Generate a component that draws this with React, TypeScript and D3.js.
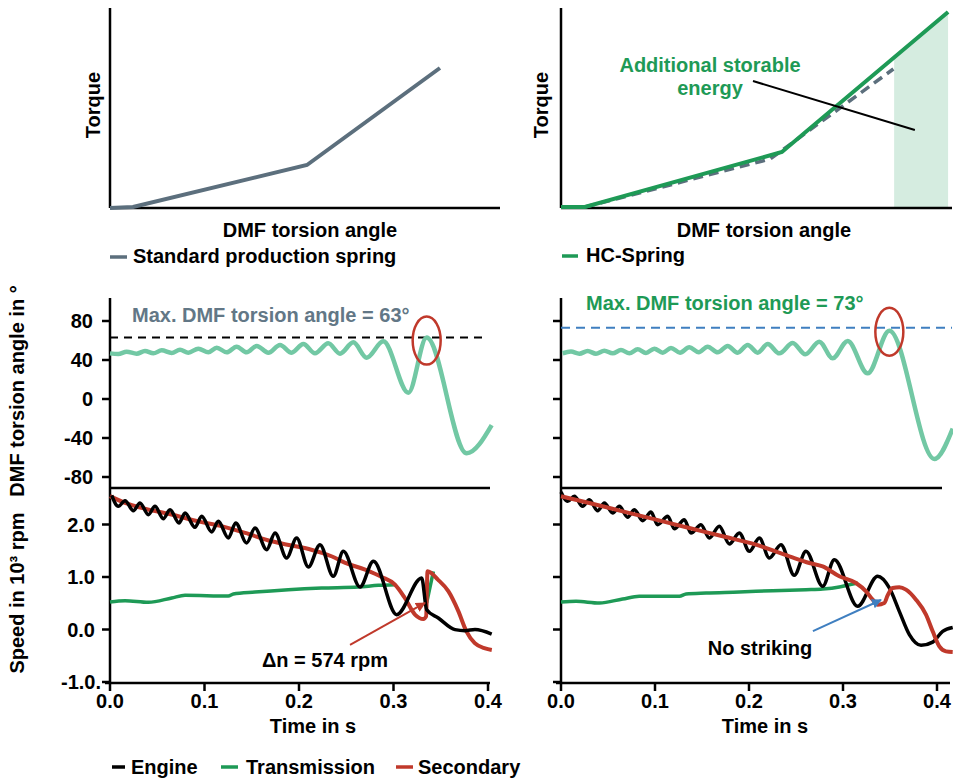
import React from "react";
import * as d3 from "d3";

// ---------- data ----------
const torsionTicks = [80, 40, 0, -40, -80];
const speedTicks = [2, 1, 0, -1];
const speedTickLabels = ["2.0", "1.0", "0.0", "-1.0."];
const timeTicks = [0, 0.1, 0.2, 0.3, 0.4];
const timeTickLabels = ["0.0", "0.1", "0.2", "0.3", "0.4"];

// top panels: [angle, torque] (relative units)
const standardSpring: [number, number][] = [[0, 0], [5.9, 0.5], [50.5, 21.5], [84.6, 70]];
const hcSpring: [number, number][] = [[0, 0.5], [6.1, 0.5], [56.5, 28], [99, 98]];
const standardSpringRef: [number, number][] = [[6.1, 0.5], [53.5, 24.5], [85, 69.5]];
const extraEnergyRange = [85.2, 99];
const energyPointer: [number, number][] = [[49.1, 63.5], [90.5, 39]];

// middle panels: [time s, DMF torsion angle deg]
const torsionStd: [number, number][] = [
  [0, 46.8], [0.0088, 46.2], [0.0176, 48.5], [0.0282, 46.5], [0.037, 49.2], [0.0459, 46.8],
  [0.0547, 49.9], [0.0653, 47.2], [0.0741, 50.6], [0.0829, 47.5], [0.0935, 51.6], [0.1041, 47.9],
  [0.1129, 52.6], [0.1235, 47.9], [0.134, 53.7], [0.1446, 47.9], [0.1552, 54.4], [0.1676, 47.5],
  [0.1799, 55.4], [0.1922, 47.5], [0.2046, 56.4], [0.2169, 46.8], [0.231, 57.1], [0.2434, 46.5],
  [0.2575, 58.1], [0.2716, 42.4], [0.2892, 59.2], [0.3157, 6.5], [0.3351, 63], [0.3774, -55.7],
  [0.4039, -26.7],
];
const torsionHC: [number, number][] = [
  [0.0018, 46.9], [0.0106, 48.6], [0.0195, 46.5], [0.0284, 49.2], [0.0372, 46.5], [0.0461, 49.6],
  [0.055, 46.8], [0.0638, 50.2], [0.0727, 47.0], [0.0816, 50.9], [0.0904, 47.2], [0.0993, 51.6],
  [0.1082, 47.5], [0.117, 52.3], [0.1266, 47.5], [0.1365, 53.0], [0.1465, 47.9], [0.156, 53.7],
  [0.1667, 47.9], [0.1773, 54.4], [0.1879, 47.5], [0.1986, 55.4], [0.2092, 47.5], [0.2199, 56.4],
  [0.2323, 46.8], [0.2465, 57.4], [0.2599, 45.8], [0.2748, 58.8], [0.289, 41.7], [0.305, 59.5],
  [0.3262, 26.3], [0.3493, 70], [0.3972, -61.5], [0.4167, -30.3],
];
const maxAngleStd = 63;
const maxAngleHC = 73;
const peakStd: [number, number] = [0.3351, 63];
const peakHC: [number, number] = [0.3493, 70];

// bottom panels: [time s, speed 10^3 rpm]
const engineStd: [number, number][] = [
  [0.0018, 2.556], [0.0088, 2.346], [0.0159, 2.454], [0.0247, 2.263], [0.0317, 2.41], [0.0406, 2.187],
  [0.0476, 2.346], [0.0564, 2.111], [0.0635, 2.283], [0.073, 2.029], [0.0794, 2.219], [0.0899, 1.946],
  [0.097, 2.156], [0.1076, 1.857], [0.1146, 2.06], [0.1252, 1.743], [0.133, 2.029], [0.1446, 1.648],
  [0.1534, 1.933], [0.1658, 1.521], [0.1746, 1.838], [0.1869, 1.362], [0.1975, 1.743], [0.2099, 1.19],
  [0.2222, 1.616], [0.2363, 1.013], [0.2469, 1.489], [0.2646, 0.81], [0.2787, 1.298], [0.3034, 0.283],
  [0.3298, 0.981], [0.3351, 0.377], [0.3474, 0.219], [0.3651, -0.003], [0.3757, -0.022], [0.3862, 0.0],
  [0.4039, -0.086],
];
const transmissionStd: [number, number | null][] = [
  [0, 0.524], [0.0159, 0.55], [0.0406, 0.518], [0.0653, 0.6], [0.0794, 0.651], [0.1252, 0.638],
  [0.1305, 0.676], [0.1534, 0.714], [0.1887, 0.759], [0.224, 0.79], [0.2628, 0.81], [0.284, 0.841],
  [0.3016, 0.854], [0.32, null], [0.3351, 0.505], [0.3422, 1.108],
];
const secondaryStd: [number, number][] = [
  [0, 2.54], [0.0159, 2.41], [0.037, 2.3], [0.065, 2.19], [0.0935, 2.06], [0.118, 1.97], [0.143, 1.84],
  [0.171, 1.68], [0.192, 1.6], [0.213, 1.52], [0.235, 1.39], [0.249, 1.27], [0.27, 1.14], [0.2875, 1.0],
  [0.3016, 0.854], [0.312, 0.6], [0.323, 0.28], [0.3316, 0.2], [0.3345, 0.25], [0.336, 1.108],
  [0.347, 0.95], [0.358, 0.73], [0.3686, 0.35], [0.377, -0.03], [0.386, -0.26], [0.397, -0.36],
  [0.404, -0.39],
];
const engineHC: [number, number][] = [
  [0, 2.619], [0.0071, 2.441], [0.0142, 2.537], [0.023, 2.346], [0.0301, 2.473], [0.039, 2.263],
  [0.0461, 2.41], [0.055, 2.219], [0.0621, 2.346], [0.0709, 2.137], [0.078, 2.283], [0.0869, 2.073],
  [0.0957, 2.238], [0.1028, 1.997], [0.1135, 2.156], [0.1206, 1.92], [0.1312, 2.092], [0.1383, 1.838],
  [0.1489, 1.997], [0.1578, 1.743], [0.1684, 1.965], [0.1791, 1.629], [0.1897, 1.838], [0.2004, 1.489],
  [0.211, 1.743], [0.2216, 1.362], [0.234, 1.616], [0.2482, 1.032], [0.2606, 1.489], [0.2784, 0.822],
  [0.2908, 1.33], [0.3156, 0.441], [0.3369, 1.013], [0.3493, 0.791], [0.3599, 0.346], [0.3706, -0.098],
  [0.383, -0.302], [0.3954, -0.24], [0.406, -0.035], [0.4167, 0.04],
];
const transmissionHC: [number, number][] = [
  [0, 0.524], [0.016, 0.537], [0.0408, 0.505], [0.0656, 0.581], [0.0833, 0.632], [0.1259, 0.632],
  [0.133, 0.676], [0.1543, 0.695], [0.1897, 0.714], [0.2252, 0.74], [0.2606, 0.759], [0.2784, 0.771],
  [0.2961, 0.81], [0.3067, 0.854], [0.3156, 0.886],
];
const secondaryHC: [number, number][] = [
  [0, 2.537], [0.0301, 2.41], [0.0656, 2.251], [0.1011, 2.092], [0.1365, 1.933], [0.172, 1.775],
  [0.2074, 1.616], [0.2429, 1.394], [0.2642, 1.267], [0.2784, 1.203], [0.2961, 1.013], [0.3138, 0.886],
  [0.3245, 0.727], [0.3316, 0.568], [0.3369, 0.473], [0.344, 0.505], [0.3475, 0.65], [0.3528, 0.791],
  [0.3599, 0.803], [0.367, 0.759], [0.3777, 0.568], [0.3883, 0.283], [0.3954, -0.035], [0.4025, -0.321],
  [0.4096, -0.416], [0.4167, -0.429],
];
const arrowStd: [number, number][] = [[0.254, -0.295], [0.3333, 0.505]];
const arrowHC: [number, number][] = [[0.268, -0.03], [0.3404, 0.562]];

// ---------- styling ----------
const FONT = "'Liberation Sans', Arial, Helvetica, sans-serif";
const C_STD = "#5c6f7d";
const C_HC = "#1e9a56";
const C_MINT = "#72c8a4";
const C_RED = "#c0392b";
const C_BLUE = "#3f7fc0";
const C_SHADE = "#d5ece0";

export default function App() {
  // scales
  const xAngL = d3.scaleLinear().domain([0, 100]).range([110, 500]);
  const xAngR = d3.scaleLinear().domain([0, 100]).range([561, 952]);
  const yTorque = d3.scaleLinear().domain([0, 100]).range([208, 8]);
  const xL = d3.scaleLinear().domain([0, 0.4]).range([110, 488]);
  const xR = d3.scaleLinear().domain([0, 0.4]).range([561, 937]);
  const yT = d3.scaleLinear().domain([0, 80]).range([399, 321]);
  const yS = d3.scaleLinear().domain([0, 2]).range([629.5, 524.5]);

  const lineTop = (xs: any) =>
    d3.line<[number, number]>().x((d) => xs(d[0])).y((d) => yTorque(d[1]));
  const lineT = (xs: any) =>
    d3.line<[number, number]>().x((d) => xs(d[0])).y((d) => yT(d[1])).curve(d3.curveMonotoneX);
  const lineS = (xs: any) =>
    d3
      .line<[number, number | null]>()
      .defined((d) => d[1] !== null)
      .x((d) => xs(d[0]))
      .y((d) => yS(d[1] as number))
      .curve(d3.curveMonotoneX);

  // shaded extra energy area under HC line
  const hcInterp = (a: number) => {
    for (let i = 0; i < hcSpring.length - 1; i++) {
      const [a0, t0] = hcSpring[i];
      const [a1, t1] = hcSpring[i + 1];
      if (a >= a0 && a <= a1) return t0 + ((a - a0) / (a1 - a0)) * (t1 - t0);
    }
    return hcSpring[hcSpring.length - 1][1];
  };
  const shadePts: [number, number][] = [
    [extraEnergyRange[0], hcInterp(extraEnergyRange[0])],
    [extraEnergyRange[1], hcInterp(extraEnergyRange[1])],
  ];
  const shadeArea = d3
    .area<[number, number]>()
    .x((d) => xAngR(d[0]))
    .y0(yTorque(0))
    .y1((d) => yTorque(d[1]))(shadePts);

  const txt = { fontFamily: FONT, fontWeight: 700, fontSize: 20 } as const;
  const axisStroke = { stroke: "#000", strokeWidth: 2.5, fill: "none" } as const;

  const timeAxis = (xs: any, y0: number, x1: number) => (
    <g>
      <line x1={xs(0) - 5} x2={x1} y1={y0} y2={y0} {...axisStroke} />
      {timeTicks.map((t, i) => (
        <g key={i}>
          <line x1={xs(t)} x2={xs(t)} y1={y0} y2={y0 + 8} {...axisStroke} />
          <text x={xs(t)} y={708} textAnchor="middle" {...txt}>
            {timeTickLabels[i]}
          </text>
        </g>
      ))}
    </g>
  );

  return (
    <svg
      width={953}
      height={780}
      viewBox="0 0 953 780"
      style={{ position: "absolute", left: 0, top: 0, background: "#fff" }}
    >
      <defs>
        <marker id="arrRed" viewBox="0 0 10 10" refX="9" refY="5" markerWidth="5" markerHeight="5" orient="auto">
          <path d="M0,0 L10,5 L0,10 z" fill={C_RED} />
        </marker>
        <marker id="arrBlue" viewBox="0 0 10 10" refX="9" refY="5" markerWidth="5" markerHeight="5" orient="auto">
          <path d="M0,0 L10,5 L0,10 z" fill={C_BLUE} />
        </marker>
      </defs>
      <rect x={0} y={0} width={953} height={780} fill="#fff" />

      {/* ===== Top-left: standard spring ===== */}
      <line x1={110} x2={110} y1={yTorque(100)} y2={yTorque(0)} {...axisStroke} />
      <line x1={110} x2={xAngL(100)} y1={yTorque(0)} y2={yTorque(0)} {...axisStroke} />
      <path d={lineTop(xAngL)(standardSpring) || ""} fill="none" stroke={C_STD} strokeWidth={4} />
      <text transform="translate(100,105) rotate(-90)" textAnchor="middle" {...txt}>Torque</text>
      <text x={310} y={237} textAnchor="middle" {...txt}>DMF torsion angle</text>
      <line x1={110} x2={127} y1={257} y2={257} stroke={C_STD} strokeWidth={3.5} />
      <text x={133} y={263} {...txt}>Standard production spring</text>

      {/* ===== Top-right: HC spring ===== */}
      <path d={shadeArea || ""} fill={C_SHADE} />
      <line x1={561} x2={561} y1={yTorque(100)} y2={yTorque(0)} {...axisStroke} />
      <line x1={561} x2={xAngR(100)} y1={yTorque(0)} y2={yTorque(0)} {...axisStroke} />
      <path d={lineTop(xAngR)(standardSpringRef) || ""} fill="none" stroke={C_STD} strokeWidth={3.5} strokeDasharray="10,6" />
      <path d={lineTop(xAngR)(hcSpring) || ""} fill="none" stroke={C_HC} strokeWidth={4} />
      <line
        x1={xAngR(energyPointer[0][0])}
        y1={yTorque(energyPointer[0][1])}
        x2={xAngR(energyPointer[1][0])}
        y2={yTorque(energyPointer[1][1])}
        stroke="#000"
        strokeWidth={2}
      />
      <text x={710} y={72} textAnchor="middle" {...txt} fill={C_HC}>Additional storable</text>
      <text x={710} y={95} textAnchor="middle" {...txt} fill={C_HC}>energy</text>
      <text transform="translate(548,105) rotate(-90)" textAnchor="middle" {...txt}>Torque</text>
      <text x={764} y={237} textAnchor="middle" {...txt}>DMF torsion angle</text>
      <line x1={562} x2={578} y1={256} y2={256} stroke={C_HC} strokeWidth={3.5} />
      <text x={586} y={262} {...txt}>HC-Spring</text>

      {/* ===== shared y axis titles ===== */}
      <text transform="translate(24,391) rotate(-90)" textAnchor="middle" {...txt}>DMF torsion angle in °</text>
      <text transform="translate(24,593) rotate(-90)" textAnchor="middle" {...txt}>Speed in 10³ rpm</text>

      {/* ===== Middle-left ===== */}
      <line x1={110} x2={110} y1={298} y2={683} {...axisStroke} />
      {torsionTicks.map((v) => (
        <g key={v}>
          <line x1={102} x2={110} y1={yT(v)} y2={yT(v)} {...axisStroke} />
          <text x={93} y={yT(v) + 7} textAnchor="end" {...txt}>{v}</text>
        </g>
      ))}
      <line x1={110} x2={490} y1={488} y2={488} {...axisStroke} />
      <line x1={110} x2={488} y1={yT(maxAngleStd)} y2={yT(maxAngleStd)} stroke="#000" strokeWidth={2} strokeDasharray="8,6" />
      <path d={lineT(xL)(torsionStd) || ""} fill="none" stroke={C_MINT} strokeWidth={4.5} />
      <ellipse cx={xL(peakStd[0])} cy={yT(peakStd[1]) + 3} rx={14} ry={24} fill="none" stroke={C_RED} strokeWidth={2.5} />
      <text x={132} y={322} {...txt} fill="#627786">Max. DMF torsion angle = 63°</text>

      {/* ===== Middle-right ===== */}
      <line x1={561} x2={561} y1={298} y2={683} {...axisStroke} />
      {torsionTicks.map((v) => (
        <line key={v} x1={553} x2={561} y1={yT(v)} y2={yT(v)} {...axisStroke} />
      ))}
      <line x1={561} x2={942} y1={488} y2={488} {...axisStroke} />
      <line x1={561} x2={952} y1={yT(maxAngleHC)} y2={yT(maxAngleHC)} stroke={C_BLUE} strokeWidth={2} strokeDasharray="9,6" />
      <path d={lineT(xR)(torsionHC) || ""} fill="none" stroke={C_MINT} strokeWidth={4.5} />
      <ellipse cx={xR(peakHC[0])} cy={yT(peakHC[1]) + 1} rx={14} ry={24} fill="none" stroke={C_RED} strokeWidth={2.5} />
      <text x={586} y={310} {...txt} fill={C_HC}>Max. DMF torsion angle = 73°</text>

      {/* ===== Bottom-left ===== */}
      {speedTicks.map((v, i) => (
        <g key={v}>
          <line x1={102} x2={110} y1={yS(v)} y2={yS(v)} {...axisStroke} />
          <text x={speedTickLabels[i].endsWith(".") ? 101 : 95} y={yS(v) + 7} textAnchor="end" {...txt}>
            {speedTickLabels[i]}
          </text>
        </g>
      ))}
      {timeAxis(xL, 683, 490)}
      <text x={313} y={733} textAnchor="middle" {...txt}>Time in s</text>
      <path d={lineS(xL)(transmissionStd) || ""} fill="none" stroke={C_HC} strokeWidth={3.5} />
      <path d={lineS(xL)(secondaryStd) || ""} fill="none" stroke={C_RED} strokeWidth={4} />
      <path d={lineS(xL)(engineStd) || ""} fill="none" stroke="#000" strokeWidth={3.5} />
      <line
        x1={xL(arrowStd[0][0])}
        y1={yS(arrowStd[0][1])}
        x2={xL(arrowStd[1][0])}
        y2={yS(arrowStd[1][1])}
        stroke={C_RED}
        strokeWidth={2}
        markerEnd="url(#arrRed)"
      />
      <text x={325} y={667} textAnchor="middle" {...txt}>Δn = 574 rpm</text>

      {/* ===== Bottom-right ===== */}
      {speedTicks.map((v) => (
        <line key={v} x1={553} x2={561} y1={yS(v)} y2={yS(v)} {...axisStroke} />
      ))}
      {timeAxis(xR, 683, 950)}
      <text x={765} y={733} textAnchor="middle" {...txt}>Time in s</text>
      <path d={lineS(xR)(transmissionHC) || ""} fill="none" stroke={C_HC} strokeWidth={3.5} />
      <path d={lineS(xR)(engineHC) || ""} fill="none" stroke="#000" strokeWidth={3.5} />
      <path d={lineS(xR)(secondaryHC) || ""} fill="none" stroke={C_RED} strokeWidth={4} />
      <line
        x1={xR(arrowHC[0][0])}
        y1={yS(arrowHC[0][1])}
        x2={xR(arrowHC[1][0])}
        y2={yS(arrowHC[1][1])}
        stroke={C_BLUE}
        strokeWidth={2}
        markerEnd="url(#arrBlue)"
      />
      <text x={760} y={655} textAnchor="middle" {...txt}>No striking</text>

      {/* ===== Legend ===== */}
      <line x1={112} x2={125} y1={767} y2={767} stroke="#000" strokeWidth={3.5} />
      <text x={131} y={774} {...txt}>Engine</text>
      <line x1={221} x2={238} y1={767} y2={767} stroke={C_HC} strokeWidth={3.5} />
      <text x={246} y={774} {...txt}>Transmission</text>
      <line x1={396} x2={413} y1={767} y2={767} stroke={C_RED} strokeWidth={3.5} />
      <text x={418} y={774} {...txt}>Secondary</text>
    </svg>
  );
}
